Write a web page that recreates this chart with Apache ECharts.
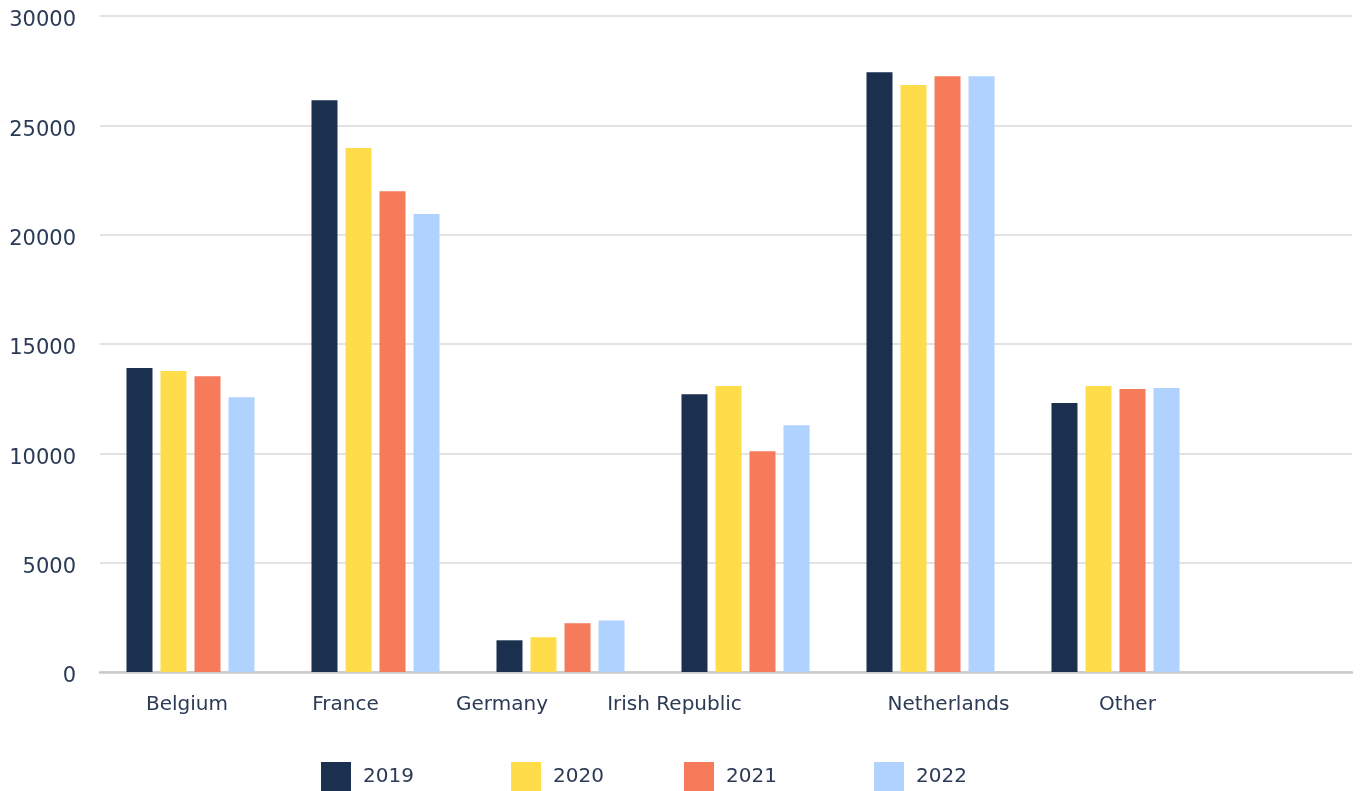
<!DOCTYPE html>
<html>
<head>
<meta charset="utf-8">
<script src="https://cdn.jsdelivr.net/npm/echarts@6/dist/echarts.min.js"></script>
<style>
  html, body { margin: 0; padding: 0; background: #ffffff; }
  #chart { width: 1362px; height: 791px; }
</style>
</head>
<body>
<div id="chart"></div>
<script>
// Destinations and yearly totals
const categories = ['Belgium', 'France', 'Germany', 'Irish Republic', 'Netherlands', 'Other'];
const years = ['2019', '2020', '2021', '2022'];
const values2019 = [13900, 26150, 1450, 12700, 27430, 12300];
const values2020 = [13760, 23960, 1590, 13080, 26840, 13080];
const values2021 = [13530, 21990, 2230, 10100, 27250, 12940];
const values2022 = [12570, 20940, 2360, 11290, 27250, 12990];
const yTicks = [0, 5000, 10000, 15000, 20000, 25000, 30000];

const seriesValues = [values2019, values2020, values2021, values2022];
const colors = ['#1b2f4e', '#ffdc4a', '#f57b5a', '#b0d2fe'];
const textColor = '#2b3a55';
const fontFamily = '"DejaVu Sans", Inter, sans-serif';

// Horizontal nudges of the category labels (px), applied as rich-text padding
const labelShift = [-3.5, -30, -58.5, -71, 18, 12];
const rich = {};
labelShift.forEach((d, i) => {
  rich['s' + i] = {
    fontSize: 20,
    fontFamily: fontFamily,
    color: textColor,
    padding: d < 0 ? [0, -2 * d, 0, 0] : [0, 0, 0, 2 * d]
  };
});

const legendLeft = [321, 511, 684, 874];

const chart = echarts.init(document.getElementById('chart'), null, { renderer: 'canvas' });

const option = {
  backgroundColor: '#ffffff',
  animation: false,
  grid: [
    { left: 100, right: 10, top: 16, bottom: 119 },
    { left: 98, width: 1110, top: 16, bottom: 119 }
  ],
  xAxis: [
    {
      gridIndex: 0, type: 'value', min: 0, max: 1,
      axisLine: { show: true, lineStyle: { color: '#c9c9c9', width: 2.5 } },
      axisTick: { show: false }, axisLabel: { show: false }, splitLine: { show: false }
    },
    {
      gridIndex: 1, type: 'category', data: categories,
      axisLine: { show: false }, axisTick: { show: false },
      axisLabel: {
        interval: 0, margin: 23,
        formatter: (v, i) => '{s' + i + '|' + v + '}',
        rich: rich
      }
    }
  ],
  yAxis: [
    {
      gridIndex: 0, type: 'value', min: yTicks[0], max: yTicks[yTicks.length - 1],
      interval: yTicks[1] - yTicks[0],
      axisLine: { show: false }, axisTick: { show: false },
      axisLabel: {
        margin: 24,
        formatter: v => '{t|' + v + '}',
        rich: {
          t: { fontSize: 21, fontFamily: fontFamily, color: textColor, padding: [10, 0, 0, 0] }
        }
      },
      splitLine: { lineStyle: { color: '#d9d9d9', width: 1.5 } }
    },
    {
      gridIndex: 1, type: 'value', min: yTicks[0], max: yTicks[yTicks.length - 1],
      show: false
    }
  ],
  legend: legendLeft.map((x, i) => ({
    data: [years[i]],
    left: x, top: 762, padding: 0,
    icon: 'rect', itemWidth: 30, itemHeight: 29,
    textStyle: { fontSize: 20, fontFamily: fontFamily, color: textColor, padding: [0, 0, 0, 7] }
  })),
  series: years.map((y, i) => ({
    name: y,
    type: 'bar',
    xAxisIndex: 1, yAxisIndex: 1,
    data: seriesValues[i],
    barWidth: 26,
    barGap: '30.8%',
    itemStyle: { color: colors[i] }
  }))
};

chart.setOption(option);
</script>
</body>
</html>
